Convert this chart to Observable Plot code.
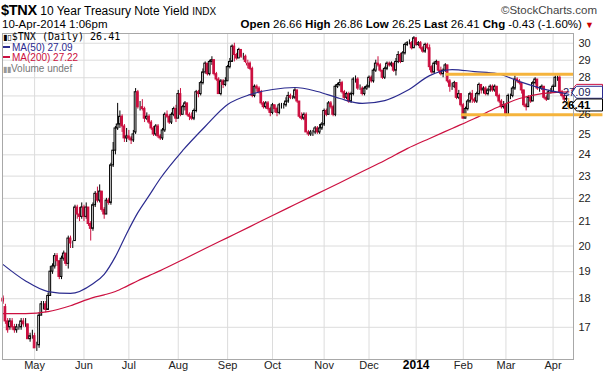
<!DOCTYPE html>
<html><head><meta charset="utf-8">
<script src="https://cdn.jsdelivr.net/npm/d3@7"></script>
<script src="https://cdn.jsdelivr.net/npm/@observablehq/plot@0.6"></script>
<style>
body{margin:0;background:#fff;font-family:"Liberation Sans",Arial,sans-serif;}
#wrap{position:relative;width:605px;height:376px;overflow:hidden;background:#fff;}
.t{position:absolute;white-space:nowrap;color:#000;}
#chart{position:absolute;left:0;top:31px;}
#legend{position:absolute;left:3px;top:32px;font-size:10px;line-height:10.5px;}
#legend div{white-space:nowrap;height:10.5px;}
.sw{display:inline-block;width:7px;height:2px;vertical-align:middle;margin-right:2px;position:relative;top:-1px;}
</style></head><body>
<div id="wrap">
 <div class="t" style="left:1px;top:2px;font-size:12px;"><b style="font-size:14.5px;letter-spacing:-0.3px">$TNX</b> 10 Year Treasury Note Yield <span style="font-size:10px">INDX</span></div>
 <div class="t" style="right:8px;top:4px;font-size:11.5px;color:#444">©StockCharts.com</div>
 <div class="t" id="dateline" style="left:2px;top:18px;font-size:11.5px;"></div>
 <div class="t" id="quote" style="right:11px;top:18px;font-size:11.5px;"></div>
 <div id="chart"></div>
 <div id="legend"></div>
</div>
<script>
// ---- data (TNX = 10-year yield x 10), trading days 11-Apr-2013 .. 10-Apr-2014 ----
const holidays = ["2013-05-27","2013-07-04","2013-09-02","2013-11-28","2013-12-25","2014-01-01","2014-01-20","2014-02-17"];
const dates = [];
for (let d = new Date(Date.UTC(2013,3,11)); d <= new Date(Date.UTC(2014,3,10)); d.setUTCDate(d.getUTCDate()+1)) {
  const wd = d.getUTCDay(), s = d.toISOString().slice(0,10);
  if (wd === 0 || wd === 6 || holidays.includes(s)) continue;
  dates.push(s);
}
const open = [
18.0,17.7,17.2,17.0,17.2,17.0,16.9,17.0,17.0,17.2,
17.1,17.1,16.6,16.7,16.7,16.3,16.4,17.4,17.8,17.8,
17.6,18.1,19.0,19.2,19.6,19.4,18.8,19.5,19.7,19.3,
20.3,20.1,20.2,21.6,21.3,21.2,21.6,21.2,21.6,20.9,
20.7,21.7,22.2,21.9,22.3,21.5,21.3,21.9,21.8,23.5,
24.2,25.3,25.5,25.9,25.4,24.8,24.9,24.8,24.7,25.1,
27.2,26.4,26.4,26.3,25.8,25.9,25.6,25.3,25.0,25.4,
24.9,24.8,25.2,26.0,25.9,25.6,26.0,26.3,25.8,27.1,
26.0,26.4,26.6,26.0,25.9,25.8,26.2,27.2,27.1,27.7,
28.3,28.8,28.2,28.9,29.0,28.2,27.9,27.1,27.8,27.6,
27.8,28.6,28.9,29.8,29.3,29.1,29.6,29.2,29.2,28.7,
28.8,28.5,27.0,27.5,27.4,27.2,26.6,26.4,26.6,26.3,
26.1,26.5,26.3,26.1,26.5,26.5,26.5,26.7,27.0,26.9,
26.9,27.3,26.7,25.9,25.8,26.0,25.1,25.0,25.1,25.1,
25.3,25.1,25.3,25.5,26.2,26.0,26.6,26.4,26.0,27.5,
27.6,27.7,27.2,26.9,27.1,26.7,27.1,27.9,27.9,27.4,
27.4,27.1,27.4,27.5,28.0,27.8,28.4,28.8,28.7,28.4,
28.0,28.5,28.8,28.7,28.8,28.4,28.9,29.3,28.9,29.4,
29.9,30.0,30.0,29.7,30.3,29.9,30.0,29.7,29.5,29.9,
29.7,28.6,28.3,28.8,28.9,28.4,28.2,28.4,28.7,27.8,
27.5,27.5,27.7,26.9,27.1,26.5,25.8,26.3,26.7,27.1,
26.8,26.7,27.1,27.6,27.3,27.4,27.1,27.3,27.5,27.3,
27.5,27.0,26.7,26.4,26.5,26.0,27.0,27.0,27.4,27.9,
27.8,27.7,27.3,26.5,26.4,26.9,26.7,27.7,27.9,27.4,
27.4,27.5,26.9,26.8,27.2,27.2,27.5,28.0,28.0,27.2,
27.0,26.8,26.66];
const high = [
18.1,17.8,17.3,17.3,17.3,17.1,17.1,17.1,17.3,17.3,
17.3,17.1,16.8,16.9,16.8,16.5,17.5,17.9,17.9,17.9,
18.2,19.2,19.3,19.7,19.7,19.4,19.6,19.8,19.7,20.4,
20.4,20.2,21.7,21.7,21.6,21.8,21.7,21.8,21.6,21.0,
21.8,22.3,22.5,22.6,22.3,21.6,22.0,22.0,23.6,24.6,
25.4,26.6,26.2,26.0,25.5,25.3,25.2,24.9,25.2,27.4,
27.3,26.7,26.8,26.4,26.1,26.0,25.7,25.4,25.5,25.5,
25.0,25.3,26.1,26.2,26.0,26.1,26.4,26.5,27.3,27.4,
26.5,26.7,26.6,26.1,26.1,26.3,27.3,27.3,27.8,28.5,
28.9,28.8,29.0,29.2,29.0,28.3,28.0,27.9,27.9,28.0,
28.7,29.1,29.9,30.0,29.4,29.7,29.6,29.4,29.3,29.0,
28.9,28.6,27.6,27.6,27.5,27.3,26.7,26.7,26.7,26.4,
26.6,26.5,26.4,26.6,26.6,26.6,26.9,27.2,27.1,27.0,
27.4,27.3,26.7,26.1,26.1,26.1,25.2,25.2,25.2,25.4,
25.4,25.5,25.6,26.3,26.3,26.7,26.7,26.5,27.6,27.7,
27.9,27.8,27.3,27.2,27.2,27.2,28.0,28.1,28.0,27.6,
27.5,27.5,27.6,28.1,28.1,28.5,29.0,29.2,28.8,28.4,
28.6,28.9,28.9,28.9,28.8,29.1,29.5,29.4,29.5,30.0,
30.1,30.2,30.1,30.4,30.3,30.1,30.1,29.8,30.0,30.0,
29.9,28.7,28.9,29.0,28.9,28.6,28.5,28.8,28.7,27.9,
27.7,27.8,27.7,27.3,27.1,26.6,26.4,26.8,27.2,27.3,
26.9,27.2,27.7,27.6,27.5,27.5,27.4,27.6,27.6,27.6,
27.5,27.1,26.8,26.7,26.5,27.1,27.1,27.5,28.1,28.0,
27.9,27.7,27.3,26.6,27.0,27.0,27.8,28.0,27.9,27.5,
27.6,27.5,27.0,27.3,27.4,27.6,28.1,28.1,28.2,27.3,
27.1,27.0,26.86];
const low = [
17.8,17.1,16.8,16.9,16.9,16.8,16.8,16.9,16.9,17.0,
17.0,16.6,16.5,16.6,16.3,16.2,16.3,17.4,17.6,17.5,
17.6,18.1,18.9,19.1,19.2,18.7,18.7,19.4,19.2,19.1,
19.9,19.9,20.2,21.1,21.0,21.1,21.0,21.1,20.8,20.2,
20.6,21.6,21.8,21.8,21.4,21.1,21.3,21.7,21.7,23.4,
24.0,25.2,25.3,25.1,24.6,24.6,24.7,24.5,24.6,25.0,
26.3,26.2,26.2,25.6,25.7,25.5,25.2,24.9,24.9,24.8,
24.7,24.7,25.1,25.8,25.5,25.5,25.9,25.6,25.8,25.9,
26.0,26.2,25.9,25.7,25.7,25.7,26.1,26.9,27.0,27.6,
28.2,28.1,28.1,28.7,28.1,27.8,27.1,27.0,27.4,27.5,
27.8,28.5,28.9,28.9,29.0,29.1,29.1,29.0,28.8,28.5,
28.4,26.9,26.9,27.2,27.1,26.5,26.3,26.3,26.2,25.9,
26.0,26.1,25.9,26.0,26.3,26.3,26.4,26.6,26.8,26.8,
26.8,26.6,25.8,25.7,25.7,25.1,24.9,24.9,24.9,25.0,
25.0,25.0,25.2,25.4,25.9,26.0,26.3,25.9,25.9,27.4,
27.5,27.1,26.8,26.8,26.6,26.6,27.0,27.7,27.3,27.3,
27.0,27.0,27.3,27.4,27.7,27.7,28.3,28.6,28.3,27.9,
27.9,28.4,28.6,28.6,28.3,28.1,28.8,28.8,28.9,29.3,
29.8,29.9,29.6,29.7,29.8,29.8,29.6,29.4,29.4,29.6,
28.4,28.2,28.2,28.7,28.3,28.1,28.0,28.3,27.7,27.2,
27.3,27.4,26.8,26.8,26.4,25.8,25.8,26.2,26.6,26.6,
26.6,26.6,27.0,27.1,27.1,27.0,27.0,27.2,27.2,27.2,
26.9,26.6,26.3,26.3,25.9,26.0,26.8,26.9,27.3,27.7,
27.6,27.1,26.4,26.2,26.4,26.6,26.7,27.6,27.3,27.2,
27.3,26.8,26.7,26.8,27.1,27.2,27.5,27.8,27.1,26.9,
26.7,26.7,26.25];
const close = [
17.9,17.2,16.9,17.2,17.0,16.9,17.0,17.0,17.2,17.1,
17.1,16.6,16.7,16.7,16.3,16.3,17.4,17.8,17.8,17.6,
18.1,19.0,19.2,19.6,19.4,18.8,19.5,19.7,19.3,20.3,
20.1,20.1,21.6,21.3,21.2,21.6,21.2,21.6,20.9,20.7,
21.7,22.2,21.9,22.3,21.5,21.3,21.9,21.8,23.5,24.2,
25.3,25.5,25.9,25.4,24.8,24.9,24.8,24.7,25.0,27.2,
26.4,26.4,26.3,25.8,25.9,25.6,25.3,25.0,25.4,24.9,
24.8,25.2,26.0,25.9,25.6,26.0,26.3,25.8,27.1,26.0,
26.4,26.6,26.0,25.9,25.8,26.2,27.2,27.1,27.7,28.3,
28.8,28.2,28.9,29.0,28.2,27.9,27.1,27.8,27.6,27.8,
28.6,28.9,29.8,29.3,29.1,29.6,29.2,29.2,28.9,28.8,
28.5,27.0,27.5,27.4,27.2,26.6,26.4,26.6,26.3,26.1,
26.5,26.3,26.1,26.5,26.5,26.5,26.7,27.0,26.9,26.9,
27.3,26.7,25.9,25.8,26.0,25.1,25.0,25.1,25.1,25.3,
25.1,25.3,25.5,26.2,26.0,26.6,26.4,26.0,27.5,27.6,
27.7,27.2,26.9,27.1,26.7,27.1,27.9,27.9,27.4,27.4,
27.1,27.4,27.5,28.0,27.8,28.4,28.8,28.7,28.4,28.0,
28.5,28.8,28.7,28.8,28.4,28.9,29.3,28.9,29.4,29.9,
30.0,30.0,29.7,30.3,29.9,30.0,29.7,29.5,29.9,29.7,
28.6,28.3,28.8,28.9,28.4,28.2,28.4,28.7,27.8,27.5,
27.5,27.7,26.9,27.1,26.5,25.8,26.3,26.7,27.1,26.8,
26.7,27.1,27.6,27.3,27.4,27.1,27.3,27.5,27.3,27.5,
27.0,26.7,26.4,26.5,26.0,27.0,27.0,27.4,27.9,27.8,
27.7,27.3,26.5,26.4,26.9,26.7,27.7,27.9,27.4,27.4,
27.5,26.9,26.8,27.2,27.2,27.5,28.0,28.0,27.2,27.0,
26.8,26.84,26.41];
const maIdx  = [0,10,20,30,40,45,50,55,60,65,70,80,90,100,110,120,130,140,150,160,170,180,190,200,210,220,230,240,252];
const ma50   = [19.27,18.65,18.26,18.19,18.55,18.9,19.58,20.5,21.38,22.12,22.89,24.21,25.40,26.54,27.07,27.35,27.46,27.24,26.86,26.60,26.75,27.29,28.12,28.46,28.35,28.24,27.79,27.40,27.09];
const ma200  = [17.47,17.47,17.54,17.75,18.04,18.14,18.26,18.45,18.66,18.85,19.04,19.46,19.90,20.34,20.79,21.26,21.73,22.21,22.70,23.21,23.73,24.30,24.80,25.30,25.81,26.38,26.86,27.13,27.22];
// trading-range annotation lines (start index, end index, level)
const trendStart = [197, 204];
const trendEnd   = [254.1, 267];
const trendLevel = [28.2, 26.0];
const yTicks = [17,18,19,20,21,22,23,24,25,26,27,28,29,30];
const yTickLabels = [17,18,19,20,21,22,23,24,25,26,28,29,30]; // 27 sits behind the value tags
const monthNames = ["Jan","Feb","Mar","Apr","May","Jun","Jul","Aug","Sep","Oct","Nov","Dec"];

// ---- derived tables ----
const N = close.length;
const BLACK = "#000000", RED = "#cc1040", BLUE = "#2b2b8f", LAST = "#f0a030";
const rows = close.map((c, i) => {
  const prev = i === 0 ? open[0] : close[i-1];
  const col = i === N-1 ? LAST : (c >= prev ? BLACK : RED);
  return {i, o: open[i], h: Math.max(high[i], open[i], c), l: Math.min(low[i], open[i], c), c, col,
          fill: c < open[i] ? col : "white"};
});
const ticks = [];
dates.forEach((s, i) => {
  if (i > 0 && s.slice(5,7) !== dates[i-1].slice(5,7)) {
    const m = +s.slice(5,7);
    ticks.push({i, label: m === 1 ? s.slice(0,4) : monthNames[m-1], bold: m === 1});
  }
});
const maRows50 = maIdx.map((i, k) => ({i, v: ma50[k]}));
const maRows200 = maIdx.map((i, k) => ({i, v: ma200[k]}));
const trends = trendLevel.map((v, k) => ({x1: trendStart[k], x2: trendEnd[k], v}));
const last = close[N-1], prevClose = close[N-2];
const chg = last - prevClose;
// value tags on the right edge; the MA(200) tag lies under the MA(50) tag, only its border shows
const tags = [
  {v: ma200[ma200.length-1], stroke: RED, text: null, color: "#000", bold: false, dy: -1.5},
  {v: ma50[ma50.length-1], stroke: BLUE, text: ma50[ma50.length-1].toFixed(2), color: "#1a1a5a", bold: false, dy: -2},
  {v: last, stroke: "#000", text: last.toFixed(2), color: "#000", bold: true, dy: -2}
];

// ---- header & legend ----
const dp = new Date(dates[N-1] + "T00:00:00Z");
document.getElementById("dateline").textContent =
  `${String(dp.getUTCDate()).padStart(2,"0")}-${monthNames[dp.getUTCMonth()]}-${dp.getUTCFullYear()} 1:06pm`;
document.getElementById("quote").innerHTML =
  `<b>Open</b> ${open[N-1].toFixed(2)} <b>High</b> ${high[N-1].toFixed(2)} <b>Low</b> ${low[N-1].toFixed(2)} ` +
  `<b>Last</b> ${last.toFixed(2)} <b>Chg</b> ${chg.toFixed(2)} (${(chg/prevClose*100).toFixed(2)}%) <span style="color:#c00;font-size:9px">▼</span>`;
document.getElementById("legend").innerHTML =
  `<div style="font-family:'DejaVu Sans Mono',monospace;font-size:10px;"><span style="font-family:'DejaVu Sans';font-size:8px;font-weight:bold">▮▯</span>$TNX (Daily) ${last.toFixed(2)}</div>` +
  `<div style="color:${BLUE}"><span class="sw" style="background:${BLUE}"></span>MA(50) ${ma50[ma50.length-1].toFixed(2)}</div>` +
  `<div style="color:${RED}"><span class="sw" style="background:${RED}"></span>MA(200) ${ma200[ma200.length-1].toFixed(2)}</div>` +
  `<div style="color:#777"><span style="font-size:8px;color:#999">▮▮</span>Volume undef</div>`;

// ---- chart ----
const tagSymbol = {draw(ctx) { ctx.moveTo(0,0); ctx.lineTo(5,-6); ctx.lineTo(31,-6); ctx.lineTo(31,6); ctx.lineTo(5,6); ctx.closePath(); }};
const tagMarks = tags.flatMap(t => {
  const m = [Plot.dot([t], {y: "v", frameAnchor: "right", dx: -2, dy: t.dy, symbol: tagSymbol, fill: "white", stroke: "stroke", strokeWidth: 1})];
  if (t.text) m.push(Plot.text([t], {y: "v", frameAnchor: "right", dx: 17, dy: t.dy, text: "text", fill: "color",
                  fontSize: t.bold ? 11.5 : 11, fontWeight: t.bold ? "bold" : "normal"}));
  return m;
});
const chart = Plot.plot({
  width: 605, height: 345,
  marginLeft: 2, marginRight: 32, marginTop: 2, marginBottom: 17,
  style: {fontFamily: "'Liberation Sans', Arial, sans-serif", fontSize: "11px", background: "transparent", overflow: "visible"},
  x: {domain: [-0.3, 254.1], axis: null},
  y: {type: "log", domain: [15.94, 30.59], axis: null},
  marks: [
    Plot.gridY(yTicks, {stroke: "#dcdcdc", strokeOpacity: 1}),
    Plot.gridX(ticks.map(d => d.i), {stroke: "#dcdcdc", strokeOpacity: 1}),
    Plot.ruleX(rows, {x: "i", y1: "l", y2: "h", stroke: "col", strokeWidth: 1}),
    Plot.rect(rows, {x1: d => d.i - 0.38, x2: d => d.i + 0.38, y1: "o", y2: "c", fill: "fill", stroke: "col", strokeWidth: 1}),
    Plot.line(maRows200, {x: "i", y: "v", stroke: RED, strokeWidth: 1.2, curve: "monotone-x"}),
    Plot.line(maRows50, {x: "i", y: "v", stroke: BLUE, strokeWidth: 1.2, curve: "monotone-x"}),
    Plot.link(trends, {x1: "x1", x2: "x2", y1: "v", y2: "v", stroke: "#f5b43c", strokeWidth: 3, clip: false}),
    Plot.frame({stroke: "#a8a8a8"}),
    Plot.axisY(yTickLabels, {anchor: "right", tickSize: 0, tickPadding: 5, tickFormat: d => String(d), fontSize: 11, fill: "#222"}),
    Plot.text(ticks.filter(d => !d.bold), {x: "i", text: "label", frameAnchor: "bottom", dy: 9, fontSize: 11, fill: "#222"}),
    Plot.text(ticks.filter(d => d.bold), {x: "i", text: "label", frameAnchor: "bottom", dy: 9, fontSize: 12, fontWeight: "bold", fill: "#000"}),
    ...tagMarks
  ]
});
document.getElementById("chart").append(chart);
</script>
</body></html>
